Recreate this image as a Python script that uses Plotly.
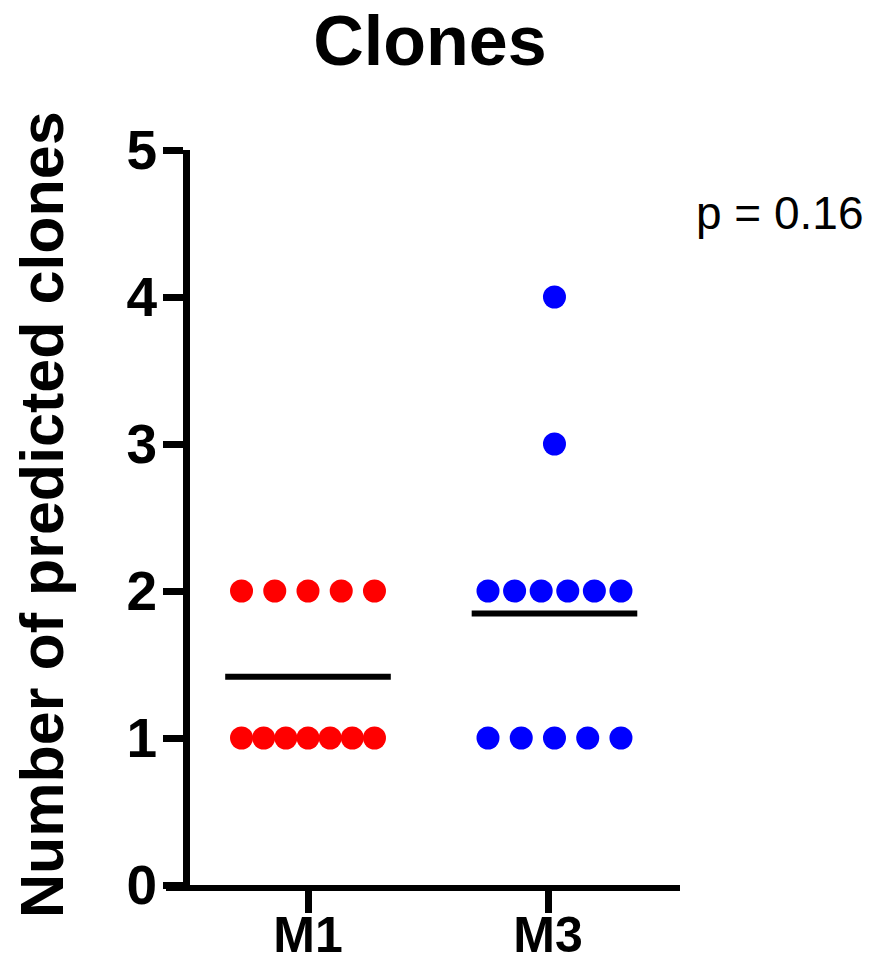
import plotly.graph_objects as go
import numpy as np

# ---- data ----
categories = ["M1", "M3"]
m1_values = [1, 1, 1, 1, 1, 1, 1, 2, 2, 2, 2, 2]
m3_values = [1, 1, 1, 1, 1, 2, 2, 2, 2, 2, 2, 3, 4]
series_values = [m1_values, m3_values]
series_colors = ["#FF0000", "#0000FF"]
y_tick_values = [0, 1, 2, 3, 4, 5]
title_text = "Clones"
y_title_text = "Number of predicted clones"
p_text = "p = 0.16"

FONT = "Arial, Liberation Sans, sans-serif"
W, H = 873, 963
L, R, T, B = 166, 193, 150, 78
plot_w = W - L - R
plot_h = H - T - B

cat_pos = [1, 2]
group_shift = [0.0, 0.027]
spread = 0.277
mean_half = 0.345

fig = go.Figure()

for ci, vals in enumerate(series_values):
    vals = np.array(vals)
    xs, ys = [], []
    for v in sorted(set(vals.tolist())):
        n = int((vals == v).sum())
        offs = np.linspace(-spread, spread, n) if n > 1 else np.array([0.0])
        for o in offs:
            xs.append(cat_pos[ci] + group_shift[ci] + o)
            ys.append(v)
    fig.add_trace(go.Scatter(
        x=xs, y=ys, mode="markers",
        marker=dict(size=23, color=series_colors[ci], line=dict(width=0)),
        showlegend=False, hoverinfo="skip", cliponaxis=False))
    m = float(vals.mean())
    c = cat_pos[ci] + group_shift[ci]
    fig.add_trace(go.Scatter(
        x=[c - mean_half, c + mean_half], y=[m, m], mode="lines",
        line=dict(color="black", width=6),
        showlegend=False, hoverinfo="skip"))

x0 = 1 - (308 - 166) / 240
x1 = 2 + (680 - 548) / 240

fig.update_layout(
    width=W, height=H,
    margin=dict(l=L, r=R, t=T, b=B, pad=0, autoexpand=False),
    paper_bgcolor="white", plot_bgcolor="white",
    font=dict(family=FONT, color="black"),
    title=dict(text="<b>%s</b>" % title_text, x=430 / W, xanchor="center",
               y=1 - 40 / H, yanchor="middle", yref="container",
               font=dict(size=70, family=FONT, color="black")),
    xaxis=dict(
        domain=[0, 1], range=[x0, x1], automargin=False,
        tickmode="array", tickvals=cat_pos,
        ticktext=["<b>%s</b>" % c for c in categories],
        showline=True, linecolor="black", linewidth=6,
        ticks="outside", ticklen=22, tickwidth=7, tickcolor="black",
        ticklabelstandoff=-21,
        showgrid=False, zeroline=False,
        tickfont=dict(size=50, family=FONT, color="black"),
        fixedrange=True),
    yaxis=dict(
        range=[0, 5], anchor="free", position=(186 - L) / plot_w, automargin=False,
        tickmode="array", tickvals=y_tick_values,
        ticktext=["<b>%d</b>" % v for v in y_tick_values],
        showline=True, linecolor="black", linewidth=7,
        ticks="outside", ticklen=20, tickwidth=7, tickcolor="black",
        ticklabelstandoff=-5,
        showgrid=False, zeroline=False,
        tickfont=dict(size=55, family=FONT, color="black"),
        fixedrange=True),
    annotations=[
        dict(text="<b>%s</b>" % y_title_text, textangle=-90,
             xref="paper", yref="paper", x=(42 - L) / plot_w, y=(885 - 515) / plot_h,
             xanchor="center", yanchor="middle", showarrow=False,
             font=dict(size=61, family=FONT, color="black")),
        dict(text=p_text, xref="paper", yref="paper",
             x=(780 - L) / plot_w, y=(885 - 213) / plot_h,
             xanchor="center", yanchor="middle", showarrow=False,
             font=dict(size=46, family=FONT, color="black")),
    ],
)

fig.write_html("out.html")
